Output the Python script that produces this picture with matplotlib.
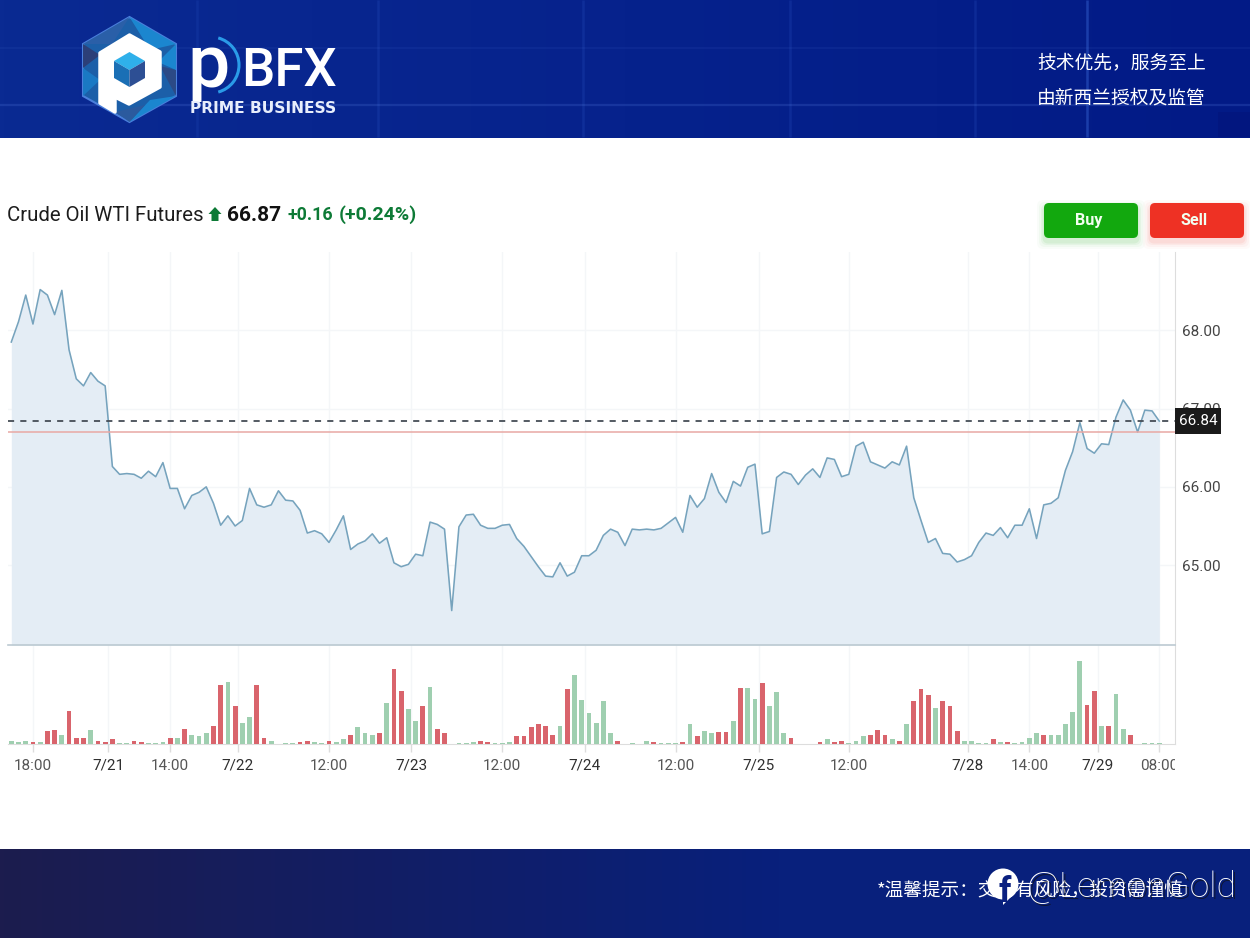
import numpy as np
import matplotlib
matplotlib.use('Agg')
import matplotlib.pyplot as plt
from matplotlib.patches import Polygon, Rectangle, FancyBboxPatch, Circle, Arc
from matplotlib.transforms import Bbox

W, H = 1250, 938
CJK = ['Noto Sans CJK SC', 'DejaVu Sans']

price = [
    67.85, 68.11, 68.45, 68.08, 68.52, 68.45, 68.20, 68.51, 67.75, 67.38,
    67.29, 67.46, 67.35, 67.29, 66.26, 66.16, 66.17, 66.16, 66.11, 66.20,
    66.13, 66.31, 65.98, 65.98, 65.72, 65.89, 65.93, 66.00, 65.79, 65.51,
    65.63, 65.50, 65.57, 65.98, 65.77, 65.74, 65.77, 65.95, 65.83, 65.82,
    65.70, 65.41, 65.44, 65.40, 65.29, 65.45, 65.63, 65.20, 65.27, 65.31,
    65.40, 65.28, 65.35, 65.03, 64.98, 65.01, 65.14, 65.12, 65.55, 65.52,
    65.46, 64.42, 65.49, 65.64, 65.65, 65.51, 65.47, 65.47, 65.51, 65.52,
    65.34, 65.24, 65.11, 64.98, 64.86, 64.85, 65.03, 64.86, 64.91, 65.12,
    65.12, 65.19, 65.38, 65.46, 65.42, 65.25, 65.46, 65.45, 65.46, 65.45,
    65.47, 65.54, 65.61, 65.42, 65.89, 65.74, 65.85, 66.17, 65.93, 65.80,
    66.07, 66.01, 66.25, 66.29, 65.40, 65.43, 66.12, 66.19, 66.16, 66.03,
    66.15, 66.23, 66.12, 66.37, 66.35, 66.13, 66.16, 66.52, 66.57, 66.32,
    66.28, 66.24, 66.32, 66.28, 66.52, 65.86, 65.57, 65.29, 65.34, 65.15,
    65.14, 65.04, 65.07, 65.12, 65.29, 65.41, 65.38, 65.48, 65.35, 65.51,
    65.51, 65.72, 65.34, 65.77, 65.79, 65.86, 66.21, 66.45, 66.82, 66.49,
    66.43, 66.55, 66.54, 66.89, 67.11, 66.98, 66.70, 66.98, 66.97, 66.84,
]

volume = [
    10, 5, 10, 6, 5, 38, 42, 28, 100, 19, 19, 42, 10, 6, 14, 2, 4, 10, 6, 2,
    2, 5, 19, 19, 46, 28, 23, 32, 55, 177, 185, 114, 64, 82, 177, 19, 10, 0, 2, 2,
    5, 10, 5, 2, 10, 5, 14, 28, 50, 32, 28, 32, 123, 226, 158, 105, 68, 114, 172, 46,
    32, 0, 2, 2, 5, 10, 6, 2, 2, 5, 24, 24, 50, 60, 55, 28, 55, 164, 208, 132,
    92, 64, 128, 32, 10, 0, 2, 0, 10, 6, 2, 2, 2, 6, 60, 24, 38, 32, 37, 37,
    68, 168, 168, 136, 182, 114, 155, 32, 19, 0, 0, 0, 6, 14, 6, 10, 2, 10, 24, 28,
    42, 28, 14, 10, 60, 128, 164, 146, 109, 128, 114, 38, 10, 10, 2, 2, 14, 5, 6, 2,
    5, 19, 32, 28, 28, 28, 60, 96, 250, 118, 159, 55, 55, 150, 46, 28, 0, 2, 3, 3,
]

# g = up bar, r = down bar, 20 per row
direction = list(
    'gggrgrrgrrrgrrrggrrg'
    'ggrgrgggrrgrggrrgggg'
    'rrggrggrgggrgrrggrgr'
    'rggggrrgggrrrrrrgrgg'
    'ggggrggggrgggrgrggrr'
    'grggrgggrgggrgrrgggr'
    'rrgrgrrrgrrrggggrgrg'
    'gggrgggggrrgrggrgggg'
)

y_ticks = [65, 66, 67, 68]
x_tick_pos = [3, 13.4, 22, 31.4, 44, 55.4, 68, 79.4, 92, 103.5, 116, 132.5, 141, 150.5, 159]
x_tick_labels = ['18:00', '7/21', '14:00', '7/22', '12:00', '7/23', '12:00', '7/24',
                 '12:00', '7/25', '12:00', '7/28', '14:00', '7/29', '08:00']

last_price = 66.84
red_line = 66.70


def px_axes(fig, x0, y0, x1, y1):
    return fig.add_axes([x0 / W, 1 - y1 / H, (x1 - x0) / W, (y1 - y0) / H])


plt.rcParams['font.family'] = ['Roboto', 'DejaVu Sans']
fig = plt.figure(figsize=(12.5, 9.38), dpi=100, facecolor='white')

# page background: banner, footer, logo and header text, in pixel coordinates
bg = fig.add_axes([0, 0, 1, 1], zorder=0)

t = np.linspace(0, 1, 300)
banner = np.zeros((1, 300, 3))
banner[0, :, 0] = 10 - 8 * t
banner[0, :, 1] = 42 - 16 * t
banner[0, :, 2] = 146 - 12 * t
bg.imshow(banner / 255, extent=(0, W, 138, 0), aspect='auto', zorder=1)
footer = np.zeros((1, 300, 3))
footer[0, :, 0] = 28 - 20 * np.clip(t * 1.6, 0, 1)
footer[0, :, 1] = 28 + 4 * np.clip(t * 1.6, 0, 1)
footer[0, :, 2] = 78 + 46 * np.clip(t * 1.6, 0, 1)
bg.imshow(footer / 255, extent=(0, W, 938, 849), aspect='auto', zorder=1)
bg.set_xlim(0, W)
bg.set_ylim(H, 0)
bg.axis('off')

for vx, alpha in zip([197, 378, 583, 790, 975, 1087], [.12, .16, .16, .16, .16, .4]):
    bg.plot([vx, vx], [0, 137.5], color='#3f6fe0', lw=1.8, alpha=alpha, zorder=2, solid_capstyle='butt')
for hy, alpha in zip([48, 105], [.08, .2]):
    bg.plot([0, W], [hy, hy], color='#5f86e8', lw=1.6, alpha=alpha, zorder=2)
bg.add_patch(Rectangle((1218, 112), 32, 25, color='#02137a', alpha=.5, lw=0, zorder=2))

# logo
cx = 129.5
hexagon = [(cx, 17), (176, 44), (176, 96), (cx, 122), (83, 96), (83, 44)]
bg.add_patch(Polygon(hexagon, closed=True, fc='#1c5fa8', ec='#4a7fdc', lw=1.5, zorder=3))
facets = [
    ([(cx, 17), (176, 44), (150, 50)], '#1b86cf'),
    ([(cx, 17), (83, 44), (112, 44)], '#2a5fa8'),
    ([(176, 44), (176, 70), (158, 62)], '#1b86cf'),
    ([(176, 70), (176, 96), (160, 66)], '#2c4a86'),
    ([(176, 96), (cx, 122), (150, 100)], '#1b86cf'),
    ([(83, 44), (100, 55), (83, 68)], '#2c3f78'),
    ([(83, 68), (100, 80), (83, 96)], '#1a79c4'),
    ([(115, 112), (cx, 122), (145, 105)], '#2b5a9e'),
]
for pts, col in facets:
    bg.add_patch(Polygon(pts, closed=True, fc=col, ec='none', zorder=3))
letter = [(cx, 35), (160, 52), (160, 87), (129, 104), (115, 97), (115, 112), (100, 103), (100, 53)]
bg.add_patch(Polygon(letter, closed=True, fc='white', ec='white', lw=2.5, joinstyle='round', zorder=4))
bg.add_patch(Polygon([(cx, 52), (145, 61), (129.5, 70), (114, 61)], fc='#2fb0ea', zorder=5))
bg.add_patch(Polygon([(114, 61), (129.5, 70), (129.5, 87), (114, 78)], fc='#1a6fb5', zorder=5))
bg.add_patch(Polygon([(145, 61), (129.5, 70), (129.5, 87), (145, 78)], fc='#2d4f94', zorder=5))

bg.add_patch(Arc((211, 65), 56, 56, theta1=-75, theta2=75, color='#2a9be8', lw=2.2, zorder=4))
bg.text(187, 87, 'p', color='white', fontsize=54, weight='medium', va='baseline', zorder=5)
bg.text(241, 86, 'BFX', color='white', fontsize=38, weight='medium', va='baseline', zorder=5)
bg.text(190, 113, 'PRIME BUSINESS', color='#e8eefc', fontsize=11.2, weight='bold',
        family=['DejaVu Sans'], va='baseline', zorder=5)

bg.text(1037, 62.5, '技术优先，服务至上', color='white', fontsize=13.5, family=CJK, va='center', zorder=5)
bg.text(1037, 98.5, '由新西兰授权及监管', color='white', fontsize=13.5, family=CJK, va='center', zorder=5)

# title row
bg.text(7, 221, 'Crude Oil WTI Futures', color='#1c1c1c', fontsize=14.7, va='baseline')
bg.add_patch(Polygon([(215, 207), (221.5, 214), (218.5, 214), (218.5, 221), (211.5, 221),
                      (211.5, 214), (208.5, 214)], fc='#0d7a36', ec='none'))
bg.text(227, 221, '66.87', color='#111111', fontsize=15, weight='bold', va='baseline')
bg.text(288, 220, '+0.16', color='#0d7a36', fontsize=12.8, weight='bold', va='baseline')
bg.text(339, 220, '(+0.24%)', color='#0d7a36', fontsize=14, weight='bold', va='baseline')

# buttons
for x0, col, label in [(1044, '#12a80e', 'Buy'), (1150, '#ee3124', 'Sell')]:
    for grow, alpha in zip([7, 5, 3, 1.5], [.025, .035, .05, .07]):
        bg.add_patch(FancyBboxPatch((x0 + 5 - grow, 208 - grow + 4), 84 + 2 * grow, 25 + 2 * grow,
                                    boxstyle='round,pad=5,rounding_size=6', fc=col, ec='none', alpha=alpha))
    bg.add_patch(FancyBboxPatch((x0 + 5, 208), 84, 25, boxstyle='round,pad=5,rounding_size=5',
                                fc=col, ec='none'))
    bg.text(x0 + 44.5, 220.5, label, color='#f2fff0', fontsize=11.6, weight='bold', ha='center', va='center')

# footer text and watermark
bg.text(877, 890, '*温馨提示：交易有风险，投资需谨慎', color='white', fontsize=13.4, family=CJK, va='center', zorder=5)
bg.add_patch(Circle((1003, 884), 15.5, fc='white', ec='none', zorder=6))
bg.add_patch(Polygon([(1003, 895), (1003, 905), (1014, 894)], fc='white', ec='none', zorder=6))
bg.text(1005, 902, 'f', color='#0a2080', fontsize=25, weight='bold', ha='center', va='baseline', zorder=7)
bg.text(1028.5, 898.5, '@LemonGold', color='#111111', fontsize=25.5, weight='light',
        alpha=.7, va='baseline', zorder=6)
bg.text(1027, 897, '@LemonGold', color='white', fontsize=25.5, weight='light', va='baseline', zorder=7)

# price panel
x = np.arange(len(price))
x_left = (8 - 11.3) / 7.22
x_right = (1175 - 11.3) / 7.22
ax = px_axes(fig, 8, 252, 1175, 645)
ax.set_zorder(2)
ax.patch.set_alpha(0)
ax.fill_between(x, price, 63.98, color='#e4edf5', lw=0, zorder=1)
ax.plot(x, price, color='#76a3bd', lw=1.15, zorder=3)
ax.axhline(red_line, color='#e8a8a4', lw=1.1, zorder=3)
ax.axhline(last_price, color='#454d56', lw=1.3, ls=(0, (3.4, 3.4)), zorder=4)
ax.set_xlim(x_left, x_right)
ax.set_ylim(63.98, 69.0)
ax.set_yticks(y_ticks)
ax.set_yticklabels(['%.2f' % v for v in y_ticks])
ax.yaxis.tick_right()
ax.tick_params(axis='y', length=0, pad=5, labelsize=11, labelcolor='#444444')
ax.set_xticks(x_tick_pos)
ax.tick_params(axis='x', length=0, labelbottom=False)
ax.grid(True, color='#f4f6f8', lw=1)
ax.set_axisbelow(True)
for name in ['top', 'left']:
    ax.spines[name].set_visible(False)
ax.spines['right'].set_color('#dddddd')
ax.spines['bottom'].set_color('#bccad2')
ax.spines['bottom'].set_linewidth(1.2)
box_w = 46 / 1167
box_h = 26 / 78.3
ax.add_patch(Rectangle((1, last_price - box_h / 2), box_w, box_h, transform=ax.get_yaxis_transform(),
                       fc='#1a1a1a', ec='none', clip_on=False, zorder=5))
ax.text(1 + box_w / 2, last_price, '%.2f' % last_price, transform=ax.get_yaxis_transform(),
        ha='center', va='center', color='white', fontsize=11, zorder=6)

# volume panel
ax_vol = px_axes(fig, 8, 645, 1175, 744)
ax_vol.set_zorder(1)
ax_vol.patch.set_alpha(0)
colors = ['#d9646c' if d == 'r' else '#9fcfb0' for d in direction]
ax_vol.bar(x, volume, width=0.66, color=colors, lw=0, zorder=3)
ax_vol.set_xlim(x_left, x_right)
ax_vol.set_ylim(0, 297)
ax_vol.set_yticks([])
ax_vol.set_xticks(x_tick_pos)
ax_vol.set_xticklabels(x_tick_labels)
ax_vol.tick_params(axis='x', length=6, width=1, color='#dddddd', pad=12.5, labelsize=11, labelcolor='#555555')
ax_vol.grid(True, axis='x', color='#f4f6f8', lw=1, zorder=1)
for name in ['top', 'left']:
    ax_vol.spines[name].set_visible(False)
ax_vol.spines['right'].set_color('#dddddd')
ax_vol.spines['bottom'].set_color('#dddddd')
clip = Bbox([[0, 0], [1175, H]])
for lab in ax_vol.get_xticklabels():
    if '/' in lab.get_text():
        lab.set_color('#2f2f2f')
    lab.set_verticalalignment('baseline')
    lab.set_clip_box(clip)
    lab.set_clip_on(True)

fig.savefig('out.png', dpi=100)
